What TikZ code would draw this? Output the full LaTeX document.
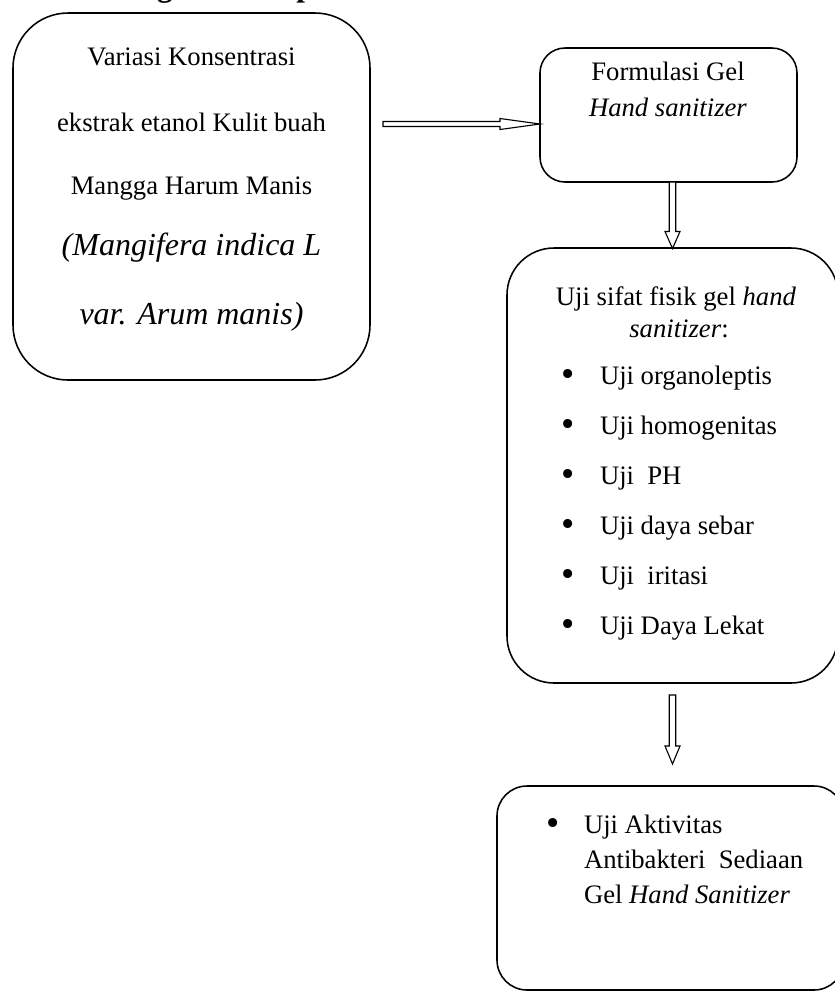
\documentclass[tikz,border=0pt]{standalone}
\usepackage{fontspec}
\setmainfont{Liberation Serif}
\usetikzlibrary{calc}
\tikzset{
  roundbox/.style={draw, line width=0.7pt, inner sep=0pt, outer sep=0pt},
  txt/.style={inner sep=0pt, outer sep=0pt, anchor=base, font=\fontsize{12}{14}\selectfont},
  bigit/.style={inner sep=0pt, outer sep=0pt, anchor=base, font=\fontsize{14.4}{17}\selectfont\itshape},
  lefttxt/.style={txt, anchor=base west},
  bul/.style={inner sep=0pt, outer sep=0pt, anchor=base, font=\fontsize{17}{17}\selectfont},
  arrowline/.style={draw, line width=0.5pt, fill=white, line join=miter}
}
\newcommand{\rightblock}[2]{% #1 start, #2 tip
  \draw[arrowline] ($(#1)+(0,-2.5)$) -- ($(#2)+(-40,-2.5)$) -- ($(#2)+(-40,-5.5)$) -- (#2)
    -- ($(#2)+(-40,5.5)$) -- ($(#2)+(-40,2.5)$) -- ($(#1)+(0,2.5)$) -- cycle;}
\newcommand{\downblock}[3]{% #1 start, #2 tip, #3 head length
  \draw[arrowline] ($(#1)+(-3.2,0)$) -- ($(#2)+(-3.2,-#3)$) -- ($(#2)+(-7.5,-#3)$) -- (#2)
    -- ($(#2)+(7.5,-#3)$) -- ($(#2)+(3.2,-#3)$) -- ($(#1)+(3.2,0)$) -- cycle;}
\begin{document}
\begin{tikzpicture}[x=0.45pt, y=-0.45pt]
\useasboundingbox (0,0) rectangle (834,994);

% title (mostly cut off at the top)
\node[inner sep=0pt, anchor=base west, font=\fontsize{14}{16}\selectfont\bfseries] (title) at (72,-3.5) {Kerangka Konsep};

% boxes
\node[roundbox, minimum width=160.65pt, minimum height=165.15pt, rounded corners=24.75pt] (box1) at (191.5,196.5) {};
\node[roundbox, minimum width=115.65pt, minimum height=60.3pt, rounded corners=11.25pt] (box2) at (668.5,115) {};
\node[roundbox, minimum width=148.95pt, minimum height=195.75pt, rounded corners=21.15pt] (box3) at (672.5,465.5) {};
\node[roundbox, minimum width=156.15pt, minimum height=91.8pt, rounded corners=13.5pt] (box4) at (670.5,888) {};

% box 1 text
\node[txt] (t1a) at (191.5,65) {Variasi Konsentrasi};
\node[txt] (t1b) at (191.5,131) {ekstrak etanol Kulit buah};
\node[txt] (t1c) at (191.5,194) {Mangga Harum Manis};
\node[bigit] (t1d) at (191.5,255) {(Mangifera indica L};
\node[bigit] (t1e) at (191.5,324) {var. Arum manis)};

% box 2 text
\node[txt] (t2a) at (668,80) {Formulasi Gel};
\node[txt] (t2b) at (668,116) {\textit{Hand sanitizer}};

% box 3 text
\node[txt] (t3a) at (676,305) {Uji sifat fisik gel \textit{hand}};
\node[txt] (t3b) at (679,337) {\textit{sanitizer}:};
\node[bul] (b1) at (568,386) {\textbullet};
\node[lefttxt] (l1) at (600,384) {Uji organoleptis};
\node[bul] (b2) at (568,436) {\textbullet};
\node[lefttxt] (l2) at (600,434) {Uji homogenitas};
\node[bul] (b3) at (568,486) {\textbullet};
\node[lefttxt] (l3) at (600,484) {Uji\ \ PH};
\node[bul] (b4) at (568,536) {\textbullet};
\node[lefttxt] (l4) at (600,534) {Uji daya sebar};
\node[bul] (b5) at (568,586) {\textbullet};
\node[lefttxt] (l5) at (600,584) {Uji\ \ iritasi};
\node[bul] (b6) at (568,636) {\textbullet};
\node[lefttxt] (l6) at (600,634) {Uji Daya Lekat};

% box 4 text
\node[bul] (b7) at (553,835) {\textbullet};
\node[lefttxt] (l7) at (584,833) {Uji Aktivitas};
\node[lefttxt] (l8) at (584,868) {Antibakteri\ \ Sediaan};
\node[lefttxt] (l9) at (584,903) {Gel \textit{Hand Sanitizer}};

% connectors (hollow block arrows)
\coordinate (a1t) at ($(box2.west)+(0,9)$);
\coordinate (a1s) at ($(box1.east |- a1t)+(13,0)$);
\rightblock{a1s}{a1t}

\coordinate (a2t) at ($(box3.north)+(0,0.5)$);
\coordinate (a2s) at (a2t |- box2.south);
\downblock{a2s}{a2t}{17}

\coordinate (a3s) at ($(box3.south)+(0,12)$);
\coordinate (a3t) at ($(a3s |- box4.north)+(0,-22)$);
\downblock{a3s}{a3t}{18}
\end{tikzpicture}
\end{document}
